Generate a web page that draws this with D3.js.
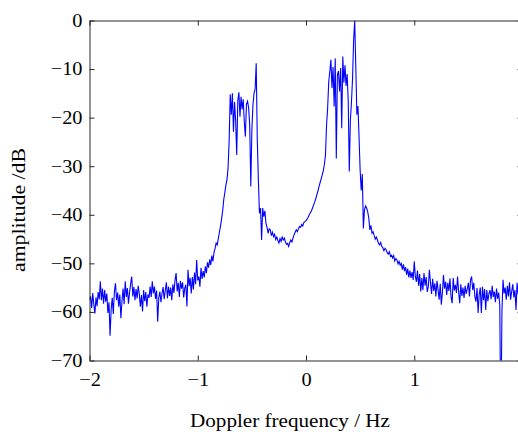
<!DOCTYPE html>
<html>
<head>
<meta charset="utf-8">
<script src="https://cdn.jsdelivr.net/npm/d3@7"></script>
<style>
  body { margin: 0; background: #fff; }
  svg text { font-family: "Liberation Serif", "Times New Roman", serif; fill: #000; }
</style>
</head>
<body>
<div id="chart"></div>
<script>
'use strict';

// sampling grid of the Doppler spectrum (Hz)
const freqStart = -2;
const freqStep = 0.01;

// amplitude in dB, one value per 0.01 Hz
const ampNegFar = [ // -2.00 .. -1.01
    -57.5, -56.8, -59.2, -56.1, -58.5, -60.3, -57.0, -58.8, -55.9, -57.4,
    -53.7, -57.6, -55.2, -58.3, -55.5, -57.9, -56.2, -60.2, -58.0, -64.9,
    -59.5, -57.1, -60.4, -55.8, -54.1, -57.6, -56.0, -58.9, -56.4, -61.3,
    -57.8, -55.2, -58.4, -53.7, -56.9, -55.1, -58.3, -56.0, -54.2, -52.7,
    -56.8, -54.9, -57.6, -55.3, -57.2, -54.6, -56.3, -58.9, -56.5, -59.9,
    -55.5, -57.8, -55.9, -58.9, -56.4, -57.1, -54.8, -56.9, -53.7, -56.2,
    -54.8, -57.3, -55.6, -62.0, -57.1, -55.8, -58.0, -56.2, -54.9, -57.4,
    -55.6, -53.9, -57.2, -54.8, -56.7, -55.0, -57.6, -54.3, -56.1, -53.5,
    -52.0, -55.8, -54.0, -56.9, -53.6, -55.2, -53.9, -57.0, -55.1, -54.4,
    -58.9, -51.3, -54.7, -53.0, -56.2, -52.8, -55.4, -51.9, -54.3, -49.3
];
const ampNegPeak = [ // -1.00 .. -0.01
    -53.5, -52.7, -54.8, -50.9, -53.2, -51.6, -52.9, -50.6, -52.0, -49.8,
    -50.9, -49.2, -50.3, -48.4, -49.6, -47.8, -46.9, -45.8, -46.2, -44.9,
    -43.6, -42.4, -40.9, -39.3, -36.9, -35.5, -33.9, -32.8, -30.4, -24.8,
    -15.2, -19.4, -15.0, -22.9, -16.8, -20.6, -27.7, -16.5, -14.8, -19.8,
    -15.7, -18.3, -16.2, -20.9, -23.9, -17.2, -16.6, -18.0, -21.5, -34.2,
    -22.5, -17.4, -15.0, -14.2, -8.8, -24.5, -32.8, -39.7, -38.6, -45.2,
    -38.6, -40.4, -39.2, -41.7, -42.6, -43.8, -42.9, -43.1, -44.3, -43.6,
    -44.5, -44.0, -45.1, -44.6, -45.3, -45.8, -44.9, -45.5, -44.6, -45.2,
    -44.8, -45.6, -46.1, -45.9, -46.5, -45.7, -45.2, -45.6, -44.8, -44.1,
    -43.6, -43.1, -43.5, -42.9, -42.4, -42.6, -42.0, -42.3, -41.6, -41.4
];
const ampPosPeak = [ // 0.00 .. 0.99
    -41.2, -40.9, -40.5, -40.0, -39.6, -39.2, -38.6, -38.0, -37.4, -36.7,
    -35.9, -35.1, -34.2, -33.4, -32.6, -31.8, -30.9, -29.6, -27.7, -21.5,
    -18.0, -12.6, -10.5, -8.1, -13.9, -9.6, -17.7, -7.8, -28.4, -11.2,
    -10.4, -14.6, -9.8, -22.2, -7.4, -12.8, -9.2, -13.5, -11.0, -16.6,
    -31.1, -20.5, -16.8, -12.0, -4.0, 0.0, -9.5, -19.4, -17.6, -24.0,
    -30.8, -35.0, -31.6, -42.8, -39.0, -38.2, -38.6, -39.4, -40.7, -43.1,
    -42.2, -43.8, -43.5, -44.3, -45.0, -44.6, -45.2, -45.9, -46.2, -45.7,
    -46.5, -46.8, -47.4, -46.9, -47.2, -47.8, -48.1, -47.6, -48.5, -48.3,
    -48.9, -48.4, -49.5, -49.0, -49.3, -50.1, -49.6, -50.4, -50.0, -51.3,
    -50.2, -51.6, -50.8, -52.4, -51.1, -52.9, -51.5, -53.0, -51.8, -53.4
];
const ampPosFar = [ // 1.00 .. 2.00
    -49.6, -52.7, -53.8, -51.5, -54.6, -52.2, -55.8, -53.0, -55.5, -52.0,
    -54.6, -52.8, -55.9, -54.8, -51.3, -54.0, -56.3, -53.2, -55.7, -54.1,
    -56.8, -53.6, -55.4, -57.5, -54.2, -58.5, -56.0, -52.4, -55.2, -53.8,
    -56.5, -54.0, -55.7, -53.1, -56.9, -58.2, -53.0, -55.6, -54.4, -56.1,
    -52.7, -55.9, -58.2, -54.3, -56.7, -55.0, -57.1, -54.6, -56.3, -55.2,
    -54.0, -56.8, -53.4, -52.7, -55.5, -54.0, -56.8, -57.9, -55.1, -60.2,
    -56.4, -55.0, -60.2, -54.8, -57.6, -55.3, -59.6, -55.5, -57.8, -56.2,
    -55.5, -57.4, -54.6, -56.9, -55.8, -58.0, -55.2, -57.3, -56.0, -58.6,
    -85.0, -60.0, -53.4, -56.2, -55.0, -57.5, -54.6, -56.8, -53.9, -57.5,
    -55.8, -54.3, -57.0, -55.5, -59.6, -54.0, -56.4, -55.2, -57.1, -56.0,
    -55.5
];

const xTicks = [-2, -1, 0, 1, 2];
const yTicks = [-70, -60, -50, -40, -30, -20, -10, 0];
const xLabel = 'Doppler frequency / Hz';
const yLabel = 'amplitude /dB';

const amplitude = ampNegFar.concat(ampNegPeak, ampPosPeak, ampPosFar);
const spectrum = amplitude.map((a, i) => ({f: freqStart + i * freqStep, a: a}));

const W = 518, H = 432;
const margin = {top: 20.5, left: 89.5},
    width = 433,
    height = 340;

const svg = d3.select('#chart').append('svg')
    .attr('width', W)
    .attr('height', H);

const g = svg.append('g')
    .attr('transform', `translate(${margin.left}, ${margin.top})`);

const x = d3.scaleLinear().domain([-2, 2]).range([0, width]);
const y = d3.scaleLinear().domain([-70, 0]).range([height, 0]);

g.append('clipPath').attr('id', 'clip')
    .append('rect').attr('width', width).attr('height', height);

g.append('path')
    .datum(spectrum)
    .attr('clip-path', 'url(#clip)')
    .attr('fill', 'none')
    .attr('stroke', '#0000ff')
    .attr('stroke-width', 1.1)
    .attr('d', d3.line().x(d => x(d.f)).y(d => y(d.a)));

const fmt = d => d < 0 ? '\u2212' + Math.abs(d) : String(d);

// the picture's text is a bit wider than the font, stretch it a little
function widen(sel, k) {
    sel.each(function () {
        const len = this.getComputedTextLength();
        d3.select(this)
            .attr('textLength', len * k)
            .attr('lengthAdjust', 'spacingAndGlyphs');
    });
}

function styleAxis(sel) {
    sel.select('.domain').attr('stroke', '#262626');
    sel.selectAll('.tick line').attr('stroke', '#262626');
    sel.selectAll('.tick text')
        .attr('font-size', 18.5)
        .attr('font-family', '"Liberation Serif", "Times New Roman", serif')
        .attr('fill', '#000')
        .call(widen, 1.1);
}

// bottom and left with labels, top and right as plain box with inner ticks
g.append('g')
    .attr('transform', `translate(0, ${height})`)
    .call(d3.axisBottom(x).tickValues(xTicks).tickFormat(fmt).tickSizeInner(-5).tickSizeOuter(0).tickPadding(12))
    .call(styleAxis);
g.append('g')
    .call(d3.axisLeft(y).tickValues(yTicks).tickFormat(fmt).tickSizeInner(-5).tickSizeOuter(0).tickPadding(7))
    .call(styleAxis);
g.append('g')
    .call(d3.axisTop(x).tickValues(xTicks).tickFormat('').tickSizeInner(-5).tickSizeOuter(0))
    .call(styleAxis);
g.append('g')
    .attr('transform', `translate(${width}, 0)`)
    .call(d3.axisRight(y).tickValues(yTicks).tickFormat('').tickSizeInner(-5).tickSizeOuter(0))
    .call(styleAxis);

svg.append('text')
    .attr('x', 190)
    .attr('y', 427)
    .attr('font-size', 18)
    .attr('textLength', 200)
    .attr('lengthAdjust', 'spacingAndGlyphs')
    .text(xLabel);

svg.append('text')
    .attr('transform', 'translate(25, 210) rotate(-90)')
    .attr('text-anchor', 'middle')
    .attr('font-size', 18)
    .attr('textLength', 124)
    .attr('lengthAdjust', 'spacingAndGlyphs')
    .text(yLabel);
</script>
</body>
</html>
